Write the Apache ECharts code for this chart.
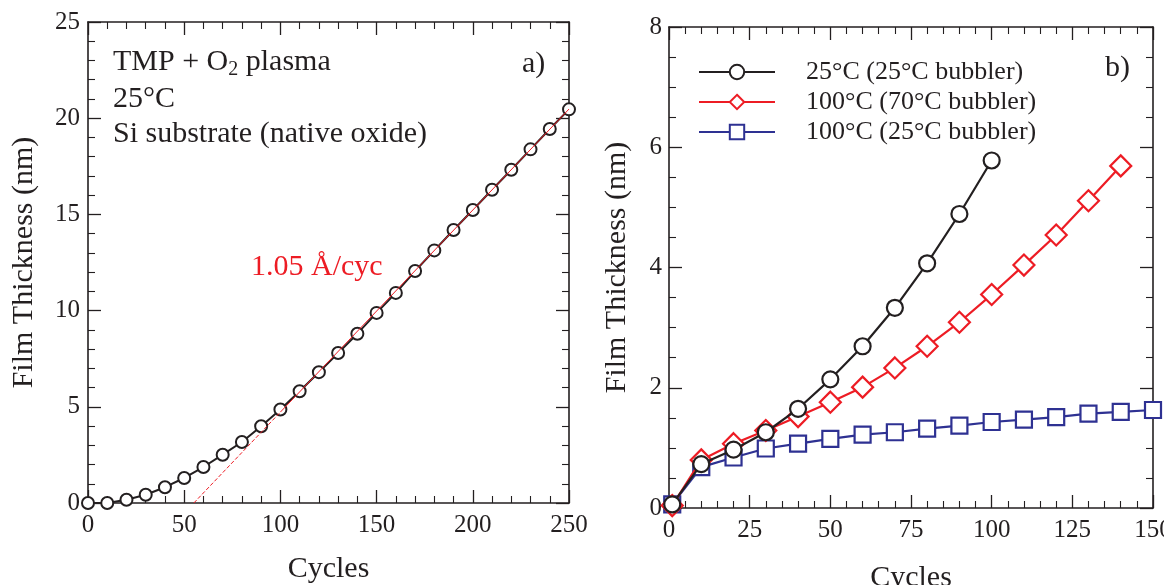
<!DOCTYPE html>
<html>
<head>
<meta charset="utf-8">
<script src="https://cdn.jsdelivr.net/npm/echarts@6/dist/echarts.min.js"></script>
<style>
html,body{margin:0;padding:0;background:#fff;}
#chart{width:1164px;height:585px;}
</style>
</head>
<body>
<div id="chart"></div>
<script>
// ---- Panel a) data ----
var cyclesA = [0,10,20,30,40,50,60,70,80,90,100,110,120,130,140,150,160,170,180,190,200,210,220,230,240,250];
var thickA  = [0.0,0.0,0.17,0.43,0.82,1.3,1.87,2.51,3.17,3.99,4.86,5.81,6.8,7.8,8.8,9.88,10.92,12.06,13.13,14.19,15.23,16.28,17.32,18.38,19.44,20.46];
var fitSlope = 0.105;          // nm per cycle (1.05 Å/cyc)
var fitOnset = 55;             // cycle where the linear fit crosses zero
var fitDashX = [55, 100];
var fitSolidX = [100, 250];

// ---- Panel b) data ----
var cyclesBlack = [1,10,20,30,40,50,60,70,80,90,100];
var thickBlack  = [0.06,0.73,0.97,1.26,1.65,2.14,2.69,3.33,4.07,4.89,5.78];
var cyclesRed   = [1,10,20,30,40,50,60,70,80,90,100,110,120,130,140];
var thickRed    = [0.04,0.80,1.07,1.29,1.52,1.76,2.01,2.33,2.69,3.09,3.55,4.04,4.54,5.11,5.69];
var cyclesBlue  = [1,10,20,30,40,50,60,70,80,90,100,110,120,130,140,150];
var thickBlue   = [0.06,0.68,0.84,0.99,1.07,1.15,1.22,1.26,1.32,1.37,1.43,1.47,1.51,1.57,1.60,1.63];

var namesB = ['25°C (25°C bubbler)', '100°C (70°C bubbler)', '100°C (25°C bubbler)'];

var BLACK = '#231f20', RED = '#ed1c24', BLUE = '#2e3192';
var FONT = 'Liberation Serif';

function pairs(xs, ys){ return xs.map(function(x,i){ return [x, ys[i]]; }); }
function fitPts(xs){ return xs.map(function(x){ return [x, fitSlope*(x-fitOnset)]; }); }

function xAx(grid, min, max, interval, pos, showLabel, name, minorSplit, gap){
  return {
    type:'value', gridIndex:grid, min:min, max:max, interval:interval, position:pos,
    name: name || '', nameLocation:'middle', nameGap:gap || 0,
    nameTextStyle:{fontFamily:FONT, fontSize:30, color:BLACK},
    axisLine:{show:true, onZero:false, lineStyle:{color:BLACK, width:1.6}},
    axisTick:{show:true, inside:true, length:13, lineStyle:{color:BLACK, width:1.3}},
    minorTick:{show:true, splitNumber:minorSplit, length:7, lineStyle:{color:BLACK, width:1.1}},
    axisLabel:{show:showLabel, margin:10, fontFamily:FONT, fontSize:25, color:BLACK},
    splitLine:{show:false}
  };
}
function yAx(grid, min, max, interval, pos, showLabel, name, minorSplit, gap, margin){
  return {
    type:'value', gridIndex:grid, min:min, max:max, interval:interval, position:pos,
    name: name || '', nameLocation:'middle', nameGap:gap, nameRotate:90,
    nameTextStyle:{fontFamily:FONT, fontSize:30, color:BLACK},
    axisLine:{show:true, onZero:false, lineStyle:{color:BLACK, width:1.6}},
    axisTick:{show:true, inside:true, length:13, lineStyle:{color:BLACK, width:1.3}},
    minorTick:{show:true, splitNumber:minorSplit, length:7, lineStyle:{color:BLACK, width:1.1}},
    axisLabel:{show:showLabel, margin:margin, fontFamily:FONT, fontSize:25, color:BLACK},
    splitLine:{show:false}
  };
}

var chart = echarts.init(document.getElementById('chart'), null, {renderer:'canvas'});
chart.setOption({
  animation:false,
  backgroundColor:'#fff',
  grid:[
    {left:88, top:22, width:481, height:481, outerBoundsMode:'none', containLabel:false},
    {left:669, top:27, width:484, height:481, outerBoundsMode:'none', containLabel:false}
  ],
  xAxis:[
    xAx(0, 0, 250, 50, 'bottom', true, 'Cycles', 5, 51),
    xAx(0, 0, 250, 50, 'top', false, '', 5),
    xAx(1, 0, 150, 25, 'bottom', true, 'Cycles', 5, 55),
    xAx(1, 0, 150, 25, 'top', false, '', 5)
  ],
  yAxis:[
    yAx(0, 0, 25, 5, 'left', true, 'Film Thickness (nm)', 5, 49, 8),
    yAx(0, 0, 25, 5, 'right', false, '', 5, 0, 8),
    yAx(1, 0, 8, 2, 'left', true, 'Film Thickness (nm)', 4, 37, 7),
    yAx(1, 0, 8, 2, 'right', false, '', 4, 0, 7)
  ],
  legend:{
    data: namesB,
    orient:'vertical', left:693, top:54,
    itemWidth:76, itemHeight:18, itemGap:4,
    textStyle:{fontFamily:FONT, fontSize:26, color:BLACK, lineHeight:26, padding:[0,0,0,26]},
    selectedMode:false
  },
  series:[
    {
      type:'line', xAxisIndex:0, yAxisIndex:0, data:pairs(cyclesA, thickA),
      symbol:'circle', symbolSize:12, z:3,
      lineStyle:{color:BLACK, width:2},
      itemStyle:{color:'#fff', borderColor:BLACK, borderWidth:2}
    },
    {
      type:'line', xAxisIndex:0, yAxisIndex:0, data:fitPts(fitDashX),
      symbol:'none', z:4,
      lineStyle:{color:RED, width:1, type:[4,2]}
    },
    {
      type:'line', xAxisIndex:0, yAxisIndex:0, data:fitPts(fitSolidX),
      symbol:'none', z:4,
      lineStyle:{color:RED, width:1}
    },
    {
      name:namesB[2], type:'line', xAxisIndex:2, yAxisIndex:2, data:pairs(cyclesBlue, thickBlue),
      symbol:'rect', symbolSize:16, z:2,
      lineStyle:{color:BLUE, width:2.2},
      itemStyle:{color:'#fff', borderColor:BLUE, borderWidth:2.2}
    },
    {
      name:namesB[1], type:'line', xAxisIndex:2, yAxisIndex:2, data:pairs(cyclesRed, thickRed),
      symbol:'diamond', symbolSize:21, z:3,
      lineStyle:{color:RED, width:2.2},
      itemStyle:{color:'#fff', borderColor:RED, borderWidth:2.2}
    },
    {
      name:namesB[0], type:'line', xAxisIndex:2, yAxisIndex:2, data:pairs(cyclesBlack, thickBlack),
      symbol:'circle', symbolSize:16, z:4,
      lineStyle:{color:BLACK, width:2.2},
      itemStyle:{color:'#fff', borderColor:BLACK, borderWidth:2.2}
    }
  ],
  graphic:[
    {type:'text', left:113, top:47, z:10, style:{
      text:'TMP + O{sub|2} plasma', fontFamily:FONT, fontSize:30, fill:BLACK,
      rich:{sub:{fontFamily:FONT, fontSize:20, fill:BLACK, verticalAlign:'bottom', lineHeight:35}}
    }},
    {type:'text', left:113, top:84, z:10, style:{text:'25°C', fontFamily:FONT, fontSize:30, fill:BLACK}},
    {type:'text', left:113, top:119, z:10, style:{text:'Si substrate (native oxide)', fontFamily:FONT, fontSize:30, fill:BLACK}},
    {type:'text', left:522, top:49, z:10, style:{text:'a)', fontFamily:FONT, fontSize:30, fill:BLACK}},
    {type:'text', left:251, top:252, z:10, style:{text:'1.05 Å/cyc', fontFamily:FONT, fontSize:30, fill:RED}},
    {type:'text', left:1105, top:53, z:10, style:{text:'b)', fontFamily:FONT, fontSize:30, fill:BLACK}}
  ]
});
</script>
</body>
</html>
